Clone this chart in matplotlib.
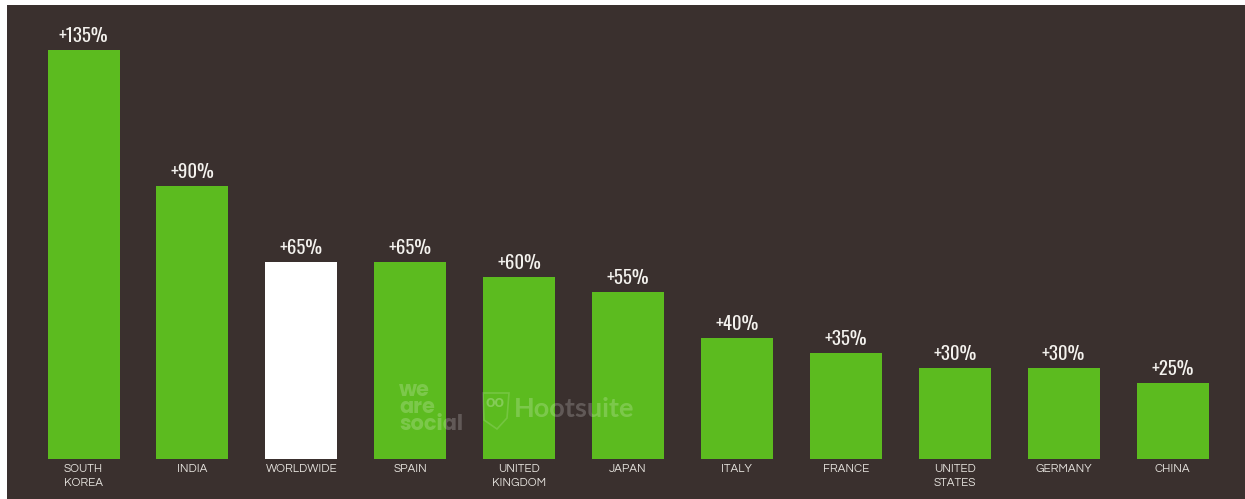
import numpy as np
import matplotlib
matplotlib.use('Agg')
import matplotlib.pyplot as plt
from matplotlib.patches import Polygon

paises = ['SOUTH\nKOREA', 'INDIA', 'WORLDWIDE', 'SPAIN', 'UNITED\nKINGDOM', 'JAPAN',
          'ITALY', 'FRANCE', 'UNITED\nSTATES', 'GERMANY', 'CHINA']
valores = [135, 90, 65, 65, 60, 55, 40, 35, 30, 30, 25]
etiquetas = ['+135%', '+90%', '+65%', '+65%', '+60%', '+55%', '+40%', '+35%', '+30%', '+30%', '+25%']

verde = '#5CBB1F'
fondo = '#3A302E'
W, H = 1245, 499
letra_valor = ['Oswald', 'Pathway Gothic One', 'Liberation Sans']
letra_pais = ['Questrial', 'Didact Gothic', 'Lato']

fig = plt.figure(figsize=(W/100, H/100), dpi=100, facecolor='white')
# area oscura, dejando el margen blanco arriba y a la izquierda
ax = fig.add_axes([7/W, 0, (W-7)/W, (H-5)/H], facecolor=fondo)

x = np.arange(len(paises))
colores = ['white' if p == 'WORLDWIDE' else verde for p in paises]
barras = ax.bar(x, valores, width=72/108.9, color=colores, linewidth=0)

# escala: 108.9 px entre barras, 3.03 px por cada punto porcentual
ax.set_xlim(-(83.5-7)/108.9, (1245-83.5)/108.9)
ax.set_ylim(-(H-459)/3.03, (459-5)/3.03)

for b, e in zip(barras, etiquetas):
    ax.annotate(e, (b.get_x()+b.get_width()/2, b.get_height()), xytext=(0, 3.5),
                textcoords='offset points', ha='center', va='bottom', color='#F4F2EE',
                fontsize=13.5, family=letra_valor)

ax.set_xticks(x)
ax.set_xticklabels(paises, fontsize=8.4, color='#E4E1DC', family=letra_pais, linespacing=1.45)
ax.tick_params(axis='x', length=0, pad=-25)
ax.set_yticks([])
for s in ax.spines.values():
    s.set_visible(False)

# marca de agua
fig.text(399/W, 1-408/H, 'we\nare\nsocial', color='white', alpha=0.2, fontsize=15, fontweight='bold',
         family=['Poppins', 'Lato'], va='center', ha='left', linespacing=0.66)
fig.text(514/W, 1-409/H, 'Hootsuite', color='white', alpha=0.2, fontsize=19.5, fontweight='bold',
         family=['Lato'], va='center', ha='left')
# escudo del buho
escudo = [(483, 393), (509, 393), (507, 418), (497, 429), (484, 420)]
fig.add_artist(Polygon([(a/W, 1-b/H) for a, b in escudo], closed=True, fill=False,
                       edgecolor='white', alpha=0.15, linewidth=1.2, transform=fig.transFigure))
fig.text(495/W, 1-402/H, 'oo', color='white', alpha=0.25, fontsize=12, fontweight='bold',
         family='Lato', va='center', ha='center')

plt.savefig('out.png', dpi=100)
plt.close()
